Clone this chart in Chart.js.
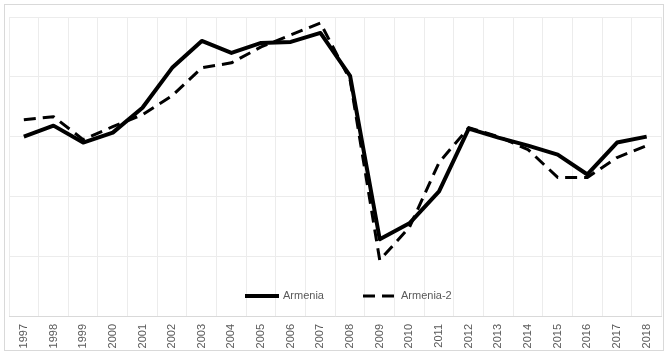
<!DOCTYPE html>
<html><head><meta charset="utf-8">
<script src="https://cdn.jsdelivr.net/npm/chart.js@4/dist/chart.umd.min.js"></script>
<style>html,body{margin:0;padding:0;background:#fff}#wrap{position:relative;width:668px;height:355px}</style>
</head><body><div id="wrap"><canvas id="c" width="668" height="355"></canvas></div>
<script>
const years = ['1997','1998','1999','2000','2001','2002','2003','2004','2005','2006','2007','2008','2009','2010','2011','2012','2013','2014','2015','2016','2017','2018'];
const armenia = [180,191,174,184,209,249,276,264,274,275,284,241,77,93,125,188,179,171,162,142,174,180];
const armenia2 = [197,200,177,190,202,221,249,254,270,282,294,237,56,89,154,189,180,167,139,139,159,171];
const yMin = 0, yMax = 300, yStep = 60;

const framePlugin = {
  id: 'frame',
  beforeDraw(chart) {
    const ctx = chart.ctx;
    ctx.save();
    ctx.fillStyle = '#fff';
    ctx.fillRect(0, 0, chart.width, chart.height);
    ctx.strokeStyle = '#d9d9d9';
    ctx.lineWidth = 1;
    ctx.strokeRect(4.5, 4.5, 659, 346);
    ctx.restore();
  }
};
const legendPlugin = {
  id: 'inlegend',
  afterDraw(chart) {
    const ctx = chart.ctx;
    const ds = chart.data.datasets;
    const items = [{x: 245, ds: ds[0]}, {x: 363, ds: ds[1]}];
    ctx.save();
    ctx.font = '11px "Liberation Sans", Arial, sans-serif';
    ctx.textBaseline = 'middle';
    items.forEach(it => {
      ctx.beginPath();
      ctx.strokeStyle = it.ds.borderColor;
      ctx.lineWidth = it.ds.borderWidth;
      ctx.setLineDash(it.ds.borderDash || []);
      ctx.moveTo(it.x, 296);
      ctx.lineTo(it.x + 34, 296);
      ctx.stroke();
      ctx.setLineDash([]);
      ctx.fillStyle = '#595959';
      ctx.fillText(it.ds.label, it.x + 38, 296);
    });
    ctx.restore();
  }
};

new Chart(document.getElementById('c'), {
  type: 'line',
  data: {
    labels: years,
    datasets: [
      {label: 'Armenia', data: armenia, borderColor: '#000', borderWidth: 4, pointRadius: 0, tension: 0, borderJoinStyle: 'round', fill: false},
      {label: 'Armenia-2', data: armenia2, borderColor: '#000', borderWidth: 3, borderDash: [12, 7], pointRadius: 0, tension: 0, borderJoinStyle: 'round', fill: false}
    ]
  },
  options: {
    responsive: false,
    animation: false,
    events: [],
    layout: {padding: {left: 9, right: 5, top: 17, bottom: 0}},
    plugins: {legend: {display: false}, tooltip: {enabled: false}},
    scales: {
      x: {
        offset: true,
        grid: {offset: true, color: '#ececec', drawTicks: false},
        border: {color: '#d9d9d9'},
        ticks: {minRotation: 90, maxRotation: 90, autoSkip: false, padding: 8, color: '#595959', font: {family: '"Liberation Sans", Arial, sans-serif', size: 11}},
        afterFit(s) { s.height = 39; }
      },
      y: {
        min: yMin, max: yMax,
        grid: {color: '#ececec', drawTicks: false},
        border: {display: false},
        ticks: {display: false, stepSize: yStep},
        afterFit(s) { s.width = 0; }
      }
    }
  },
  plugins: [framePlugin, legendPlugin]
});
</script></body></html>
